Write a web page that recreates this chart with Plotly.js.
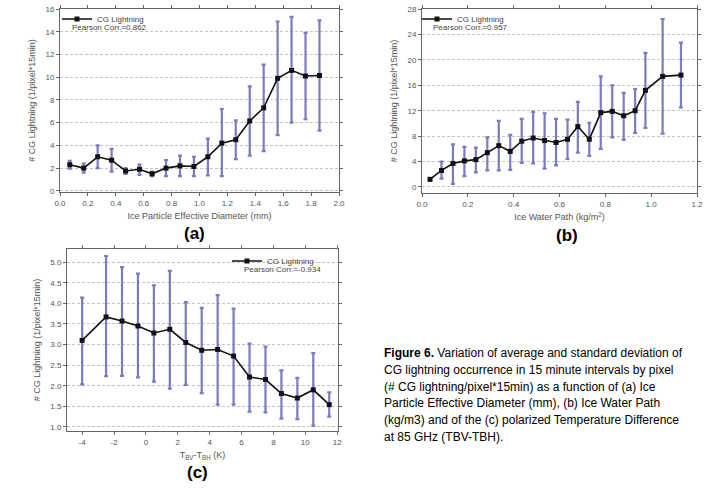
<!DOCTYPE html>
<html>
<head>
<meta charset="utf-8">
<script src="https://cdn.plot.ly/plotly-3.0.1.min.js"></script>
<style>html,body{margin:0;padding:0;background:#fff;}#chart{width:716px;height:488px;}</style>
</head>
<body>
<div id="chart"></div>
<script>
// ---- Panel (a): Ice Particle Effective Diameter ----
const aX    = [0.07,0.17,0.27,0.37,0.47,0.57,0.66,0.76,0.86,0.96,1.06,1.16,1.26,1.36,1.46,1.56,1.66,1.76,1.86];
const aMean = [2.3,2.0,3.0,2.7,1.75,1.9,1.5,2.0,2.2,2.15,3.0,4.2,4.5,6.15,7.3,9.9,10.6,10.1,10.15];
const aHigh = [2.65,2.4,4.0,3.7,2.0,2.3,1.7,2.7,3.1,3.0,4.6,7.2,6.2,9.2,11.1,14.9,15.3,13.9,15.0];
const aLow  = [1.95,1.6,2.0,1.7,1.5,1.4,1.3,1.3,1.3,1.3,1.35,1.3,2.8,3.1,3.5,4.9,6.0,6.3,5.3];
const aTicksX = [0.0,0.2,0.4,0.6,0.8,1.0,1.2,1.4,1.6,1.8,2.0];
const aTicksY = [0,2,4,6,8,10,12,14,16];

// ---- Panel (b): Ice Water Path ----
const bX    = [0.035,0.085,0.135,0.185,0.235,0.285,0.335,0.385,0.435,0.485,0.535,0.585,0.635,0.68,0.73,0.78,0.83,0.88,0.93,0.975,1.05,1.13];
const bMean = [1.2,2.6,3.7,4.1,4.3,5.4,6.5,5.6,7.2,7.7,7.3,7.0,7.5,9.5,7.5,11.7,11.9,11.2,12.0,15.2,17.4,17.6];
const bHigh = [1.4,4.0,6.7,6.3,6.2,7.8,10.4,8.2,10.7,11.8,11.6,10.7,10.6,13.4,10.1,17.4,16.0,14.8,15.4,21.1,26.4,22.7];
const bLow  = [1.0,1.3,0.5,1.7,2.3,2.6,2.6,2.7,3.8,3.7,2.9,3.4,4.4,5.4,4.9,6.0,7.8,7.4,8.5,9.3,8.4,12.5];
const bTicksX = [0.0,0.2,0.4,0.6,0.8,1.0,1.2];
const bTicksY = [0,4,8,12,16,20,24,28];

// ---- Panel (c): TBV - TBH ----
const cX    = [-4,-2.5,-1.5,-0.5,0.5,1.5,2.5,3.5,4.5,5.5,6.5,7.5,8.5,9.5,10.5,11.5];
const cMean = [3.1,3.67,3.57,3.45,3.28,3.37,3.05,2.86,2.88,2.72,2.21,2.15,1.81,1.70,1.90,1.54];
const cHigh = [4.14,5.15,4.88,4.72,4.44,4.79,4.03,3.89,4.2,3.87,3.02,2.95,2.37,2.19,2.79,1.84];
const cLow  = [2.03,2.23,2.24,2.2,2.1,1.93,2.02,1.82,1.54,1.54,1.37,1.35,1.2,1.19,1.03,1.25];
const cTicksX = [-4,-2,0,2,4,6,8,10,12];
const cTicksY = [1.0,1.5,2.0,2.5,3.0,3.5,4.0,4.5,5.0];

const seriesName = "CG Lightning";
const pearson = ["Pearson Corr.=0.862","Pearson Corr.=0.957","Pearson Corr.=-0.934"];
const yTitle = "# CG Lightning (1/pixel*15min)";
const xTitles = ["Ice Particle Effective Diameter (mm)","Ice Water Path (kg/m<sup>2</sup>)","T<sub>BV</sub>-T<sub>BH</sub> (K)"];
const panelLabels = ["(a)","(b)","(c)"];
const captionLines = [
  "<b>Figure 6.</b> Variation of average and standard deviation of",
  "CG lightning occurrence in 15 minute intervals by pixel",
  "(# CG lightning/pixel*15min) as a function of (a) Ice",
  "Particle Effective Diameter (mm), (b) Ice Water Path",
  "(kg/m3) and of the (c) polarized Temperature Difference",
  "at 85 GHz (TBV-TBH)."
];

const W = 716, H = 488;
const px = v => v / W;
const py = v => 1 - v / H;
const FONT = "Liberation Sans, Arial, sans-serif";
const errColor = "rgba(100,100,180,0.85)";

function trace(x, mean, hi, lo, xa, ya, leg) {
  return {
    x: x, y: mean, type: "scatter", mode: "lines+markers",
    name: seriesName, xaxis: xa, yaxis: ya, legend: leg,
    line: {color: "#111", width: 1.6},
    marker: {symbol: "square", size: 5, color: "#111"},
    error_y: {type: "data", symmetric: false,
      array: hi.map((h, i) => h - mean[i]),
      arrayminus: lo.map((l, i) => mean[i] - l),
      color: errColor, thickness: 2.2, width: 2}
  };
}

const data = [
  trace(aX, aMean, aHigh, aLow, "x", "y", "legend"),
  trace(bX, bMean, bHigh, bLow, "x2", "y2", "legend2"),
  trace(cX, cMean, cHigh, cLow, "x3", "y3", "legend3")
];

function xaxis(domain, range, ticks, anchor, title, standoff) {
  return {domain: domain, range: range, anchor: anchor, tickvals: ticks,
    ticktext: ticks.map(t => Number.isInteger(t) && range[1] > 5 ? String(t) : t.toFixed(1)),
    showline: true, linecolor: "#666", linewidth: 1, mirror: "ticks",
    ticks: "outside", ticklen: 3, tickcolor: "#666", showgrid: false, zeroline: false,
    tickfont: {size: 8, color: "#555", family: FONT},
    title: {text: title, font: {size: 9, color: "#555", family: FONT}, standoff: standoff}};
}
function yaxis(domain, range, ticks, anchor, fmt) {
  return {domain: domain, range: range, anchor: anchor, tickvals: ticks,
    ticktext: ticks.map(fmt),
    showline: true, linecolor: "#666", linewidth: 1, mirror: "ticks",
    ticks: "outside", ticklen: 3, tickcolor: "#666",
    showgrid: true, gridcolor: "#c4c4c4", gridwidth: 1, griddash: "3px,2px", zeroline: false,
    tickfont: {size: 8, color: "#555", family: FONT},
    title: {text: yTitle, font: {size: 9, color: "#555", family: FONT}, standoff: 8}};
}

const legendBase = {font: {size: 8, color: "#444", family: FONT}, bgcolor: "rgba(0,0,0,0)",
  borderwidth: 0, xanchor: "left", yanchor: "middle", tracegroupgap: 0, itemwidth: 30};

const annotations = [];
const pearsonPos = [[70, 28], [431, 28], [242, 269]];
pearson.forEach((t, i) => annotations.push({xref: "paper", yref: "paper", x: px(pearsonPos[i][0]), y: py(pearsonPos[i][1]),
  xanchor: "left", yanchor: "middle", text: t, showarrow: false, font: {size: 8, color: "#444", family: FONT}}));
const labPos = [[194, 233], [567, 235], [197, 472]];
panelLabels.forEach((t, i) => annotations.push({xref: "paper", yref: "paper", x: px(labPos[i][0]), y: py(labPos[i][1]),
  xanchor: "center", yanchor: "middle", text: "<b>" + t + "</b>", showarrow: false,
  font: {size: 17, color: "#000", family: FONT}}));
captionLines.forEach((t, i) => annotations.push({xref: "paper", yref: "paper", x: px(382), y: py(353 + i * 16.8),
  xanchor: "left", yanchor: "middle", text: t, showarrow: false, align: "left",
  font: {size: 12, color: "#000", family: FONT}}));

const layout = {
  width: W, height: H, margin: {l: 0, r: 0, t: 0, b: 0},
  paper_bgcolor: "#fff", plot_bgcolor: "#fff", font: {family: FONT},
  showlegend: true,
  xaxis:  xaxis([px(60), px(339)], [0, 2.0], aTicksX, "y", xTitles[0], 6),
  yaxis:  yaxis([py(192), py(9)], [-0.1, 16], aTicksY, "x", t => String(t)),
  xaxis2: xaxis([px(422), px(697)], [0, 1.2], bTicksX, "y2", xTitles[1], 6),
  yaxis2: yaxis([py(193), py(9)], [-0.95, 28], bTicksY, "x2", t => String(t)),
  xaxis3: xaxis([px(67), px(338)], [-4.95, 12.05], cTicksX, "y3", xTitles[2], 6),
  yaxis3: yaxis([py(431), py(249)], [0.9, 5.32], cTicksY, "x3", t => t.toFixed(1)),
  legend:  Object.assign({}, legendBase, {x: px(57), y: py(19)}),
  legend2: Object.assign({}, legendBase, {x: px(417), y: py(19)}),
  legend3: Object.assign({}, legendBase, {x: px(227), y: py(261)}),
  annotations: annotations
};

Plotly.newPlot("chart", data, layout, {staticPlot: true, displayModeBar: false});
</script>
</body>
</html>
